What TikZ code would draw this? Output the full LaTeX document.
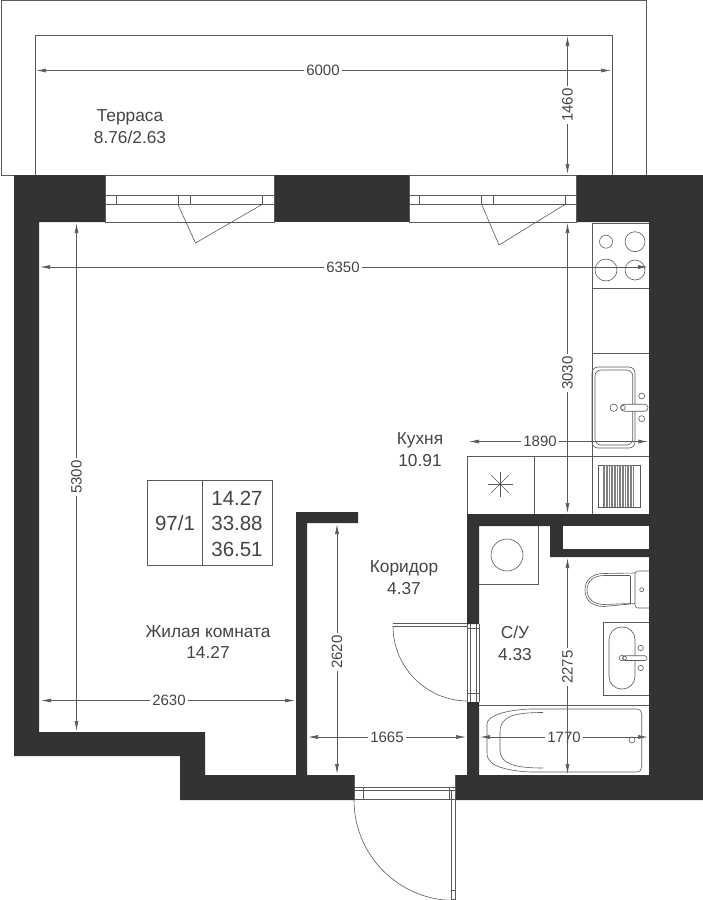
\documentclass[tikz,border=0pt]{standalone}
\usepackage{fontspec}
\setmainfont{Liberation Sans}
\usetikzlibrary{arrows.meta}
\definecolor{wallc}{HTML}{333333}
\definecolor{linec}{HTML}{5A5A5A}
\definecolor{txtc}{HTML}{444444}
\tikzset{
  wall/.style={fill=wallc,draw=none},
  thin line/.style={draw=linec,line width=0.7pt},
  fixture/.style={draw=linec,line width=0.6pt},
  dimline/.style={draw=linec,line width=0.7pt,-{Latex[length=10pt,width=4pt]},shorten >=1pt},
  dimtext/.style={font=\fontsize{15}{16}\selectfont,text=txtc,inner sep=2.5pt},
  roomtext/.style={font=\fontsize{17.3}{19}\selectfont,text=txtc,inner sep=0pt,text height=12pt,text depth=3pt},
  tabletext/.style={font=\fontsize{20.5}{22}\selectfont,text=txtc,inner sep=0pt},
}
\begin{document}
\begin{tikzpicture}[x=1pt,y=-1pt]
\useasboundingbox (0,0) rectangle (703,900);
% terrace
\draw[thin line] (1,0.5) rectangle (646.5,175);
\draw[thin line] (35,175) -- (35,35) -- (612,35) -- (612,175);
% walls
\fill[wall] (14,175) -- (105,175) -- (105,222) -- (39,222) -- (39,732) -- (205,732) -- (205,775) -- (296,775) -- (296,512) -- (358,512) -- (358,523) -- (307,523) -- (307,775) -- (354,775) -- (354,800) -- (180,800) -- (180,756) -- (14,756) -- cycle;
\fill[wall] (274,175) rectangle (409,222);
\fill[wall] (576,175) -- (703,175) -- (703,800) -- (455,800) -- (455,775) -- (467,775) -- (467,702) -- (479,702) -- (479,775) -- (649,775) -- (649,557) -- (550,557) -- (550,526) -- (479,526) -- (479,624) -- (467,624) -- (467,514) -- (649,514) -- (649,222) -- (576,222) -- cycle;
\fill[white] (563,526) rectangle (649,549);
% window 1
\draw[thin line] (105,175) -- (105,222) -- (274,222) -- (274,175);
\draw[thin line] (105,195) -- (274,195) (105,204.5) -- (274,204.5);
\foreach \x in {116,178,190,262} \draw[thin line] (\x,195) -- (\x,204.5);
\draw[fixture] (178,204.5) -- (195.5,243) -- (262,204.5);
% window 2
\draw[thin line] (409,175) -- (409,222) -- (576,222) -- (576,175);
\draw[thin line] (409,195) -- (576,195) (409,204.5) -- (576,204.5);
\foreach \x in {419,481.7,493,565} \draw[thin line] (\x,195) -- (\x,204.5);
\draw[fixture] (481.7,204.5) -- (499,245) -- (565,204.5);
% kitchen counter
\draw[thin line] (649,223) -- (592,223) -- (592,456);
\draw[thin line] (592,288.7) -- (649,288.7) (592,353.7) -- (649,353.7);
\draw[fixture] (606,241.7) circle[radius=6.5] (635,241.7) circle[radius=10] (606,270) circle[radius=11] (635,270) circle[radius=10];
% sink
\draw[fixture,rounded corners=6pt] (592,367) rectangle (635,448);
\draw[fixture,rounded corners=6pt] (595,370) rectangle (632.7,445);
\draw[fixture,fill=white] (613.7,407.7) circle[radius=3.7] (641.7,396) circle[radius=3] (641.7,418.7) circle[radius=3];
\draw[fixture,fill=white,rounded corners=3.4pt] (620.7,404.2) rectangle (648,411.2);
\draw[fixture] (623,407.7) circle[radius=2.3];
% stove row
\draw[thin line] (467,514) -- (467,456) -- (649,456);
\draw[thin line] (534,456) -- (534,514) (592,456) -- (592,514);
\foreach \a in {0,45,...,315} \draw[fixture] (500,484) -- +(\a:12.5);
\fill[linec] (500,484) circle[radius=1.5];
\draw[fixture] (598,465) rectangle (640,507);
\foreach \x in {603,604.6,...,635} \draw[draw=gray,line width=0.8pt] (\x,465) -- (\x,507);
% washer
\draw[thin line] (538,526) -- (538,584) -- (479,584);
\draw[fixture] (507,555) circle[radius=16];
% toilet
\draw[fixture,rounded corners=3pt] (649,571) -- (635,571) -- (635,608) -- (649,608);
\draw[fixture] (641.7,589.7) circle[radius=2];
\draw[fixture] (635,573) -- (604,573.5) .. controls (592,573.5) and (585,580) .. (585,590) .. controls (585,600) and (592,606.5) .. (604,606.5) -- (635,603.5);
\draw[fixture] (630,575.5) -- (630,603.5);
\draw[fixture] (630,575.5) -- (604,575.5) .. controls (594,575.5) and (587,581) .. (587,590) .. controls (587,599) and (594,604.5) .. (604,604.5) -- (630,603.5);
% basin
\draw[thin line] (649,622) -- (603,622) -- (603,695) -- (649,695);
\draw[fixture,rounded corners=12.5pt] (609,627) rectangle (635,689);
\draw[fixture,fill=white] (640.7,648) circle[radius=2.7] (640.7,668) circle[radius=2.7] (622,658) circle[radius=2.7];
\draw[fixture,fill=white,rounded corners=2.3pt] (623,655.7) rectangle (647,660.5);
\draw[fixture] (624.5,658) circle[radius=2];
% bath
\draw[thin line] (479,705) -- (649,705);
\draw[fixture] (530,709) -- (636,709) .. controls (640,709) and (641.7,711) .. (641.7,714) -- (641.7,767) .. controls (641.7,770) and (640,772) .. (636,772) -- (530,772) .. controls (510,771) and (495,767) .. (491,762) .. controls (488,759) and (487,757) .. (487,752) -- (487,724) .. controls (487,716) and (505,710) .. (530,709) -- cycle;
\draw[fixture] (543,712.5) .. controls (515,712.5) and (500,716) .. (500,732) -- (500,750) .. controls (500,764) and (515,768) .. (543,768);
\draw[fixture] (632,740) circle[radius=3];
% bathroom door
\draw[thin line] (467.3,624) -- (467.3,702) (470.7,624) -- (470.7,702) (476,624) -- (476,702) (479,624) -- (479,702);
\draw[thin line] (467,628) -- (479,628) (467,693) -- (479,693);
\draw[thin line] (393,623.5) -- (467,623.5) (393,626) -- (467,626);
\draw[fixture] (393,626) arc[start angle=180,end angle=90,radius=75];
% entrance door
\draw[thin line] (354,775) -- (354,800) (455,775) -- (455,900);
\draw[thin line] (354,787.7) -- (455,787.7) (354,790) -- (455,790) (354,799.5) -- (455,799.5);
\draw[thin line] (363,787.7) -- (363,799.5) (449.3,787.7) -- (449.3,799.5);
\draw[thin line] (451.7,790) -- (451.7,899) -- (455,899) (451.7,890) -- (455,890);
\draw[fixture] (354,800) arc[start angle=180,end angle=90,radius=100.5];
% area table
\draw[thin line] (147.3,480.7) rectangle (272.7,565.7) (202,480.7) -- (202,565.7);
\node[tabletext] (t0) at (175,523) {97/1};
\node[tabletext] (t1) at (237,498) {14.27};
\node[tabletext] (t2) at (237,523) {33.88};
\node[tabletext] (t3) at (237,549) {36.51};
% room labels
\node[roomtext] (r1a) at (130,116.5) {Терраса};
\node[roomtext] (r1b) at (130,138.5) {8.76/2.63};
\node[roomtext] (r2a) at (420,439.5) {Кухня};
\node[roomtext] (r2b) at (420,461.5) {10.91};
\node[roomtext] (r3a) at (404,567.5) {Коридор};
\node[roomtext] (r3b) at (404,589.5) {4.37};
\node[roomtext] (r4a) at (515,633.5) {С/У};
\node[roomtext] (r4b) at (515,656) {4.33};
\node[roomtext] (r5a) at (208,632.5) {Жилая комната};
\node[roomtext] (r5b) at (208,653.5) {14.27};
% dimensions
\newcommand{\hdim}[5]{% name, y, x1, x2, xlabel + text
  \coordinate (#1a) at (#3,#2); \coordinate (#1b) at (#4,#2);
  \node[dimtext] (#1) at (#5,#2) {#1};
  \draw[dimline] (#1) -- (#1a); \draw[dimline] (#1) -- (#1b);}
\newcommand{\vdim}[5]{% name, x, y1, y2, ylabel + text
  \coordinate (#1a) at (#2,#3); \coordinate (#1b) at (#2,#4);
  \node[dimtext,rotate=90] (#1) at (#2,#5) {#1};
  \draw[dimline] (#1) -- (#1a); \draw[dimline] (#1) -- (#1b);}
\hdim{6000}{70.5}{35}{612}{323}
\hdim{6350}{267}{39}{649}{343}
\hdim{1890}{441.5}{468}{649}{540}
\hdim{2630}{700.5}{40}{296}{169}
\hdim{1665}{737}{307}{467}{387}
\hdim{1770}{737}{479}{649}{564}
\vdim{1460}{567.5}{35}{175}{105}
\vdim{3030}{567.5}{222}{514}{373}
\vdim{5300}{76.5}{222}{732}{477}
\vdim{2620}{337}{523}{775}{652}
\vdim{2275}{567.5}{557}{775}{667}
\end{tikzpicture}
\end{document}
